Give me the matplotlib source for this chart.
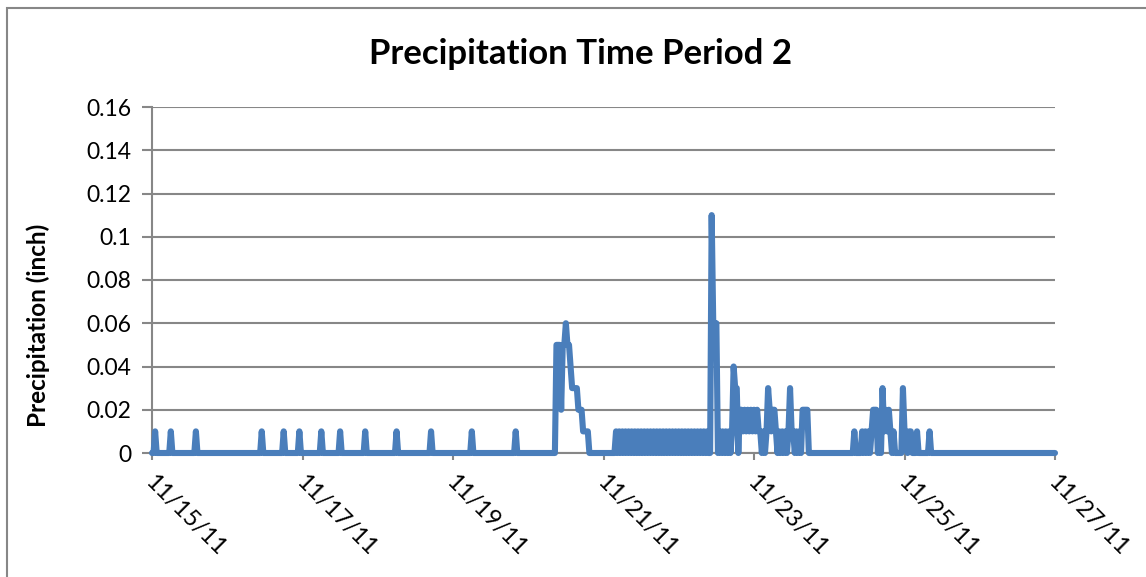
"""
Precipitation Time Period 2 - half-hourly rain gauge readings, 11/15/11 to 11/27/11
"""

import numpy as np
import matplotlib.pyplot as plt
import matplotlib.dates as mdates
import matplotlib.transforms as mtransforms
from matplotlib.patches import Rectangle

plt.rcParams['font.family'] = ['Lato', 'DejaVu Sans']
plt.rcParams['path.simplify'] = False

# readings every half hour from the start of the period
START = np.datetime64('2011-11-15T00:00')
N_STEPS = 577          # 12 days of half-hour steps, both ends included

# time (hours after start) of each non-zero reading, and the amount (inch)
rain_hours = [
    1, 6, 14, 35, 42, 47, 54, 60, 68, 78, 89, 102, 116,
    129, 129.5, 130, 130.5, 131, 131.5, 132, 132.5, 133, 133.5,
    134, 134.5, 135, 135.5, 136, 136.5, 137, 137.5, 138, 138.5, 139,
    148, 149, 150, 151, 152, 153, 154, 155, 156, 157, 158, 159, 160, 161,
    162, 163, 164, 165, 166, 167, 168, 169, 170, 171, 172, 173, 174, 175,
    176, 177,
    178.5, 179, 179.5, 180, 181, 182, 183, 184, 185, 185.5, 186, 186.5,
    187.5, 188, 188.5, 189, 189.5, 190, 190.5, 191, 191.5, 192, 192.5, 193,
    193.5, 194, 195, 196, 196.5, 197, 197.5, 198, 198.5, 199, 200, 201,
    202, 203, 203.5, 204, 204.5, 205.5, 206.5, 207.5, 208, 208.5, 209,
    224, 226.5, 227.5, 228.5, 229.5, 230, 230.5, 231, 232, 233, 233.5,
    234, 234.5, 235, 235.5, 236.5, 239.5, 240, 240.5, 241.5, 242, 244, 248,
]
rain_vals = [
    0.01, 0.01, 0.01, 0.01, 0.01, 0.01, 0.01, 0.01, 0.01, 0.01, 0.01, 0.01, 0.01,
    0.05, 0.05, 0.05, 0.02, 0.05, 0.05, 0.06, 0.05, 0.05, 0.04,
    0.03, 0.03, 0.03, 0.03, 0.02, 0.02, 0.02, 0.01, 0.01, 0.01, 0.01,
    0.01, 0.01, 0.01, 0.01, 0.01, 0.01, 0.01, 0.01, 0.01, 0.01, 0.01, 0.01,
    0.01, 0.01, 0.01, 0.01, 0.01, 0.01, 0.01, 0.01, 0.01, 0.01, 0.01, 0.01,
    0.01, 0.01, 0.01, 0.01, 0.01, 0.01,
    0.11, 0.06, 0.06, 0.06, 0.01, 0.01, 0.01, 0.01, 0.01, 0.04, 0.03, 0.03,
    0.02, 0.02, 0.01, 0.02, 0.01, 0.02, 0.01, 0.02, 0.01, 0.02, 0.01, 0.02,
    0.01, 0.01, 0.01, 0.01, 0.03, 0.02, 0.01, 0.02, 0.02, 0.01, 0.01, 0.01,
    0.01, 0.01, 0.03, 0.01, 0.01, 0.01, 0.01, 0.02, 0.02, 0.02, 0.02,
    0.01, 0.01, 0.01, 0.01, 0.01, 0.02, 0.02, 0.02, 0.01, 0.03, 0.01,
    0.02, 0.01, 0.02, 0.01, 0.01, 0.03, 0.01, 0.01, 0.01, 0.01, 0.01, 0.01,
]

tick_days = ['2011-11-15', '2011-11-17', '2011-11-19', '2011-11-21',
             '2011-11-23', '2011-11-25', '2011-11-27']
tick_labels = ['11/15/11', '11/17/11', '11/19/11', '11/21/11',
               '11/23/11', '11/25/11', '11/27/11']

BLUE = '#4A7EBB'
GREY = '#878787'

# full series, zero where nothing was recorded
times = START + np.arange(N_STEPS) * np.timedelta64(30, 'm')
precip = np.zeros(N_STEPS)
precip[(np.array(rain_hours) * 2).astype(int)] = rain_vals
x = mdates.date2num(times.astype('datetime64[ms]'))

fig = plt.figure(figsize=(11.46, 5.77), dpi=100)
ax = fig.add_axes([152 / 1146, 1 - 453 / 577, 903 / 1146, 346 / 577])

ax.plot(x, precip, color=BLUE, lw=4.4, solid_joinstyle='round',
        solid_capstyle='round', clip_on=False, zorder=3)

# axes
ax.set_ylim(0, 0.16)
ax.set_yticks(np.arange(0, 0.17, 0.02))
ax.set_yticklabels(['0', '0.02', '0.04', '0.06', '0.08', '0.1', '0.12',
                    '0.14', '0.16'])
ticks = mdates.date2num(np.array(tick_days, dtype='datetime64[ms]'))
ax.set_xlim(ticks[0], ticks[-1])
ax.set_xticks(ticks)
ax.set_xticklabels(tick_labels)

ax.grid(axis='y', color=GREY, lw=1.5, zorder=0)
ax.set_axisbelow(True)
for s in ['top', 'right']:
    ax.spines[s].set_visible(False)
for s in ['left', 'bottom']:
    ax.spines[s].set_color(GREY)
    ax.spines[s].set_linewidth(1.5)

ax.tick_params(axis='y', direction='out', length=7, width=1.5, color=GREY,
               labelsize=16.5, pad=8)
ax.tick_params(axis='x', direction='out', length=5, width=1.5, color=GREY,
               labelsize=17, pad=8)

# slanted date labels, anchored at their top-left corner
offset = mtransforms.ScaledTranslation(4 / 100, 0, fig.dpi_scale_trans)
for lab in ax.get_xticklabels():
    lab.set_rotation(-45)
    lab.set_ha('left')
    lab.set_va('top')
    lab.set_rotation_mode('anchor')
    lab.set_transform(lab.get_transform() + offset)

ax.set_ylabel('Precipitation (inch)', fontsize=17.5, fontweight='bold',
              va='center')
ax.yaxis.set_label_coords((38 - 152) / 903, (453 - 325) / 346)
fig.text(581 / 1146, 1 - 54 / 577, 'Precipitation Time Period 2',
         fontsize=25, fontweight='bold', ha='center', va='center')

# chart area border
fig.patches.append(Rectangle((7 / 1146, -0.1), 1.2, 1 - 8 / 577 + 0.1,
                             transform=fig.transFigure, fill=False,
                             edgecolor=GREY, lw=1.5))

plt.savefig('out.png', dpi=100)
